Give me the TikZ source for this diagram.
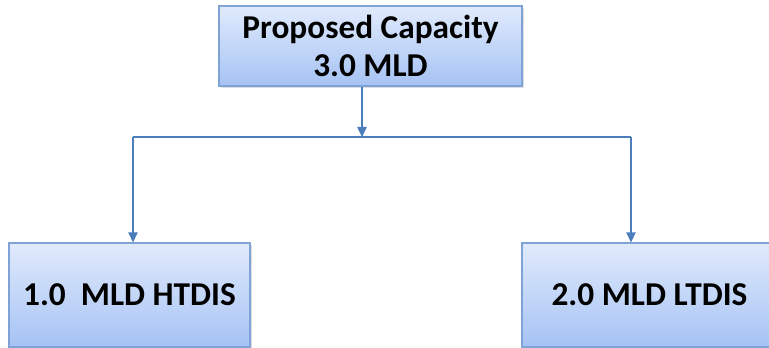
\documentclass[tikz,border=0pt]{standalone}
\usepackage{fontspec}
\setmainfont{Carlito}
\usetikzlibrary{arrows.meta,shadows}
\definecolor{boxtop}{HTML}{E0EAFC}
\definecolor{boxbot}{HTML}{A6C3F4}
\definecolor{boxline}{HTML}{7FA3D6}
\definecolor{linkcol}{HTML}{4A7EBB}
\tikzset{
  capbox/.style={draw=boxline, line width=0.9pt, top color=boxtop, bottom color=boxbot,
    inner sep=0pt, align=center, font=\bfseries\fontsize{25}{28.5}\selectfont,
    drop shadow={shadow xshift=1.5pt, shadow yshift=-1.5pt, opacity=0.25}},
  link/.style={draw=linkcol, line width=1.1pt},
  flow/.style={link, -{Triangle[length=7.5pt,width=7pt]}}
}
\begin{document}
\begin{tikzpicture}[x=0.75pt, y=-0.75pt]
  \useasboundingbox (0,0) rectangle (769,348);
  % source capacity
  \node[capbox, minimum width=227.25pt, minimum height=60pt] (top) at (370.5,46) {Proposed Capacity\\3.0 MLD};
  % branches
  \node[capbox, minimum width=180.75pt, minimum height=78pt] (ht) at (129.5,295) {1.0~~MLD HTDIS};
  \node[capbox, minimum width=191.25pt, minimum height=78pt] (lt) at (649.5,295) {2.0 MLD LTDIS};
  % junction points on the split line
  \coordinate (hm) at (362,137);
  \coordinate (hl) at (133,137);
  \coordinate (hr) at (631,137);
  \draw[flow] (top.south -| hm) -- (hm);
  \draw[link] (hl) -- (hr);
  \draw[flow] (hl) -- (ht.north -| hl);
  \draw[flow] (hr) -- (lt.north -| hr);
\end{tikzpicture}
\end{document}
